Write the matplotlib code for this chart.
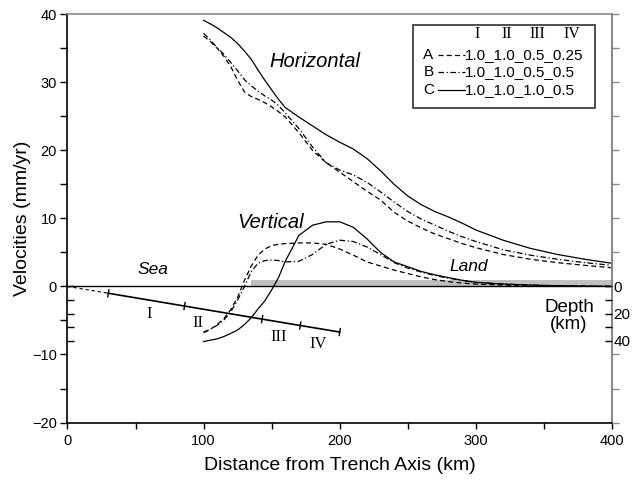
import matplotlib
matplotlib.use('Agg')
import matplotlib.pyplot as plt
from matplotlib.patches import Rectangle
import numpy as np

plt.rcParams['font.family'] = ['Liberation Sans', 'DejaVu Sans']

# distance from trench axis (km)
dist = [100, 105, 110, 115, 120, 125, 130, 135, 140, 145, 150, 155, 160,
        170, 180, 190, 200, 210, 220, 230, 240, 250, 260, 270, 280, 290,
        300, 320, 340, 360, 380, 400]

# horizontal velocities (mm/yr)
horiz_a = [36.8, 36.0, 35.0, 33.8, 32.3, 30.3, 28.6, 27.9, 27.5, 27.0, 26.4,
           25.7, 24.9, 22.6, 20.0, 18.2, 16.8, 15.4, 14.0, 12.7, 10.9, 9.6,
           8.6, 7.7, 7.0, 6.3, 5.7, 4.7, 4.0, 3.5, 3.1, 2.75]
horiz_b = [37.2, 36.2, 35.1, 34.1, 32.9, 31.7, 30.4, 29.5, 28.7, 28.0, 27.4,
           26.6, 25.5, 23.2, 20.5, 18.2, 17.1, 16.4, 15.3, 13.9, 12.4, 11.0,
           9.9, 9.0, 8.1, 7.3, 6.6, 5.4, 4.6, 4.0, 3.5, 3.1]
horiz_c = [39.1, 38.6, 38.0, 37.3, 36.6, 35.7, 34.6, 33.4, 31.8, 30.3, 28.9,
           27.5, 26.3, 24.9, 23.6, 22.3, 21.2, 20.2, 18.8, 17.0, 15.0, 13.3,
           12.0, 11.0, 10.2, 9.3, 8.3, 6.8, 5.6, 4.7, 4.0, 3.4]

# vertical velocities (mm/yr)
vert_a = [-6.8, -6.3, -5.6, -4.7, -3.4, -1.6, 0.9, 3.0, 4.6, 5.5, 6.0, 6.2,
          6.3, 6.4, 6.4, 6.2, 5.5, 4.6, 3.6, 3.0, 2.4, 1.9, 1.4, 1.0, 0.7,
          0.5, 0.35, 0.2, 0.1, 0.05, 0.02, 0.0]
vert_b = [-6.7, -6.3, -5.7, -4.9, -3.7, -2.0, 0.0, 2.2, 3.4, 3.8, 3.9, 3.8,
          3.6, 3.7, 4.7, 6.2, 6.8, 6.6, 5.8, 4.7, 3.5, 2.7, 2.1, 1.6, 1.2,
          0.9, 0.6, 0.35, 0.2, 0.1, 0.05, 0.0]
vert_c = [-8.1, -7.9, -7.7, -7.35, -6.9, -6.4, -5.6, -4.6, -3.3, -2.1, -0.5,
          1.3, 3.7, 7.5, 9.0, 9.5, 9.5, 8.7, 7.0, 5.0, 3.6, 2.9, 2.2, 1.7,
          1.3, 0.9, 0.6, 0.35, 0.2, 0.1, 0.05, 0.0]

# slab top: distance (km) and depth (km), segment boundaries
slab_x = [0, 30, 86, 143, 171, 200]
slab_depth = [0, 5.0, 14.4, 24.0, 28.7, 33.5]
segment_names = ['I', 'II', 'III', 'IV']
segment_label_x = [60, 96, 155, 184]
segment_label_y = [-4.0, -5.4, -7.5, -8.4]
depth_scale = 0.2   # plot units per km of depth

land_start = 135
land_top = 1.0

models = ['A', 'B', 'C']
model_values = ['1.0_1.0_0.5_0.25', '1.0_1.0_0.5_0.5', '1.0_1.0_1.0_0.5']
zone_names = ['I', 'II', 'III', 'IV']

dash_a = (4, 2.6)
dash_b = (4.5, 2, 1, 2)

fig = plt.figure(figsize=(6.33, 4.82), dpi=100)
ax = fig.add_axes([0.1066, 0.1234, 0.8602, 0.8469])

ax.fill_between([land_start, 400], 0, land_top, color='#c0c0c0', lw=0, zorder=1)
ax.axhline(0, color='black', lw=1.0, zorder=2)

lw = 0.9
ax.plot(dist, horiz_a, color='black', lw=lw, dashes=dash_a)
ax.plot(dist, horiz_b, color='black', lw=lw, dashes=dash_b)
ax.plot(dist, horiz_c, color='black', lw=lw)
ax.plot(dist, vert_a, color='black', lw=lw, dashes=dash_a)
ax.plot(dist, vert_b, color='black', lw=lw, dashes=dash_b)
ax.plot(dist, vert_c, color='black', lw=lw)

# slab
sx = np.array(slab_x, dtype=float)
sy = -np.array(slab_depth) * depth_scale
ax.plot(sx[:2], sy[:2], color='black', lw=0.8, dashes=(3, 2.5))
ax.plot(sx[1:], sy[1:], color='black', lw=1.2)
slope = (slab_depth[-1] - slab_depth[0]) / (slab_x[-1] - slab_x[0])
norm = np.hypot(1, slope)
h = 2.6
for x, d in zip(slab_x[1:], slab_depth[1:]):
    xs = [x - h * (-slope) / norm, x + h * (-slope) / norm]
    ds = [d - h / norm, d + h / norm]
    ax.plot(xs, [-v * depth_scale for v in ds], color='black', lw=1.0)
for name, xl, yl in zip(segment_names, segment_label_x, segment_label_y):
    ax.text(xl, yl, name, family='Liberation Serif', fontsize=12,
            ha='center', va='center')

ax.text(182, 32.25, 'Horizontal', style='italic', fontsize=14.5,
        ha='center', va='baseline')
ax.text(149.5, 8.6, 'Vertical', style='italic', fontsize=14.5,
        ha='center', va='baseline')
ax.text(63, 1.76, 'Sea', style='italic', fontsize=12.5, ha='center', va='baseline')
ax.text(295, 2.25, 'Land', style='italic', fontsize=12.5, ha='center', va='baseline')
ax.text(368.5, -3.8, 'Depth', fontsize=13.5, ha='center', va='baseline')
ax.text(368.5, -6.3, '(km)', fontsize=13.5, ha='center', va='baseline')

# legend box
ax.add_patch(Rectangle((0.6345, 0.7705), 0.3343, 0.2033, transform=ax.transAxes,
                       fill=False, ec='#303030', lw=1.2, zorder=5))
for xh, name in zip([0.752, 0.806, 0.863, 0.926], zone_names):
    ax.text(xh, 0.951, name, transform=ax.transAxes, family='Liberation Serif',
            fontsize=11.5, ha='center', va='center')
styles = [dict(dashes=dash_a), dict(dashes=dash_b), dict()]
for yl, m, val, st in zip([0.900, 0.858, 0.8146], models, model_values, styles):
    ax.text(0.6627, yl, m, transform=ax.transAxes, fontsize=11, ha='center', va='center')
    ax.plot([0.6805, 0.730], [yl, yl], transform=ax.transAxes, color='black',
            lw=lw, **st)
    ax.text(0.730, yl, val, transform=ax.transAxes, fontsize=11, ha='left', va='center')

ax.set_xlim(0, 400)
ax.set_ylim(-20, 40)
ax.set_xticks([0, 100, 200, 300, 400])
ax.set_xticks([50, 150, 250, 350], minor=True)
ax.set_yticks([-20, -10, 0, 10, 20, 30, 40])
ax.set_yticks([-15, -5, 5, 15, 25, 35], minor=True)
ax.tick_params(axis='x', which='both', direction='out', length=4, width=1,
               labelsize=10.5, pad=4.5)
ax.tick_params(axis='y', which='both', direction='out', length=5, width=1,
               labelsize=10.5, pad=2.5, right=False)
ax.set_xlabel('Distance from Trench Axis (km)', fontsize=14, labelpad=6)
ax.set_ylabel('Velocities (mm/yr)', fontsize=14, labelpad=1)

for s in ['left', 'bottom']:
    ax.spines[s].set_linewidth(1.2)
ax.spines['right'].set_color('#8a8a8a')
ax.spines['right'].set_linewidth(1.5)
ax.spines['top'].set_color('#8a8a8a')
ax.spines['top'].set_linestyle((0, (2, 1)))
ax.spines['top'].set_linewidth(1.2)

# right-hand outward ticks
axr = ax.twinx()
axr.set_ylim(-20, 40)
axr.set_yticks([-20, -15, -10, 5, 10, 15, 20, 25, 30, 35, 40])
axr.tick_params(axis='y', direction='out', length=5, width=1, color='#8a8a8a',
                labelright=False)
for s in axr.spines.values():
    s.set_visible(False)

# depth ticks (inward, both sides), depth in km
axd = ax.twinx()
axd.set_ylim(20 / depth_scale, -40 / depth_scale)
axd.set_yticks([0, 20, 40])
axd.set_yticks([10, 30], minor=True)
axd.tick_params(axis='y', which='both', direction='in', length=5, width=1,
                left=True, right=True, labelleft=False, labelright=True,
                labelsize=11, pad=1)
for s in axd.spines.values():
    s.set_visible(False)

fig.savefig('out.png', dpi=100)
